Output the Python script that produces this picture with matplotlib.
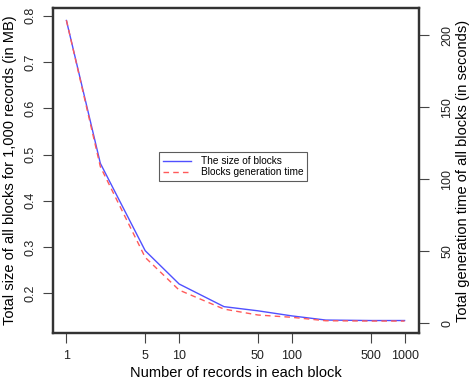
import numpy as np
import matplotlib
matplotlib.use('Agg')
import matplotlib.pyplot as plt

plt.rcParams['font.family'] = ['Liberation Sans', 'DejaVu Sans']

# records per block
records = [1, 2, 5, 10, 25, 50, 100, 200, 500, 1000]
# total size of all blocks (MB), left axis
size_mb = [0.79, 0.481, 0.292, 0.220, 0.171, 0.162, 0.151, 0.142, 0.141, 0.141]
# total generation time (seconds), right axis
gen_time = [210.5, 108.8, 45.8, 23.1, 9.9, 5.8, 4.2, 1.8, 1.6, 1.6]

xticks = [1, 5, 10, 50, 100, 500, 1000]
yticks_left = [0.2, 0.3, 0.4, 0.5, 0.6, 0.7, 0.8]
yticks_right = [0, 50, 100, 150, 200]

W, H = 470, 385
fig = plt.figure(figsize=(W / 100, H / 100), dpi=100)
left, right, top, bottom = 53, 419, 8, 333
ax = fig.add_axes([left / W, (H - bottom) / H, (right - left) / W, (bottom - top) / H])
ax2 = ax.twinx()

blue = '#5050ff'
red = '#ff5a5a'
l1, = ax.plot(records, size_mb, color=blue, lw=1.0, label='The size of blocks')
l2, = ax2.plot(records, gen_time, color=red, lw=1.0, ls=(0, (4, 3)), label='Blocks generation time')

ax.set_xscale('log')
ax.set_xlim(10 ** -0.119, 10 ** 3.128)
ax.set_ylim(0.114, 0.817)
ax2.set_ylim(-6.7, 219)

ax.set_xticks(xticks)
ax.set_xticklabels([str(t) for t in xticks])
ax.xaxis.set_minor_locator(matplotlib.ticker.NullLocator())
ax.set_yticks(yticks_left)
ax.set_yticklabels([str(t) for t in yticks_left], rotation=90, va='center')
ax2.set_yticks(yticks_right)
ax2.set_yticklabels([str(t) for t in yticks_right], rotation=90, va='center')

for a in (ax, ax2):
    for s in a.spines.values():
        s.set_linewidth(1.6)
        s.set_color('#333333')
    a.tick_params(length=7, width=0.8, color='#444444', labelsize=9, labelcolor='#222222')
ax.tick_params(axis='x', pad=5)
ax.tick_params(axis='y', pad=5)
ax2.tick_params(axis='y', pad=9)

ax.set_xlabel('Number of records in each block', fontsize=10.5, labelpad=3)
ax.set_ylabel('Total size of all blocks for 1,000 records (in MB)', fontsize=10.5, labelpad=5)
ax2.set_ylabel('Total generation time of all blocks (in seconds)', fontsize=10.5, labelpad=2)

leg = ax.legend(handles=[l1, l2], loc='upper left',
                bbox_to_anchor=((159 - left) / (right - left), 1 - (152 - top) / (bottom - top)),
                fontsize=7.3, frameon=True, fancybox=False, borderaxespad=0,
                handlelength=2.8, handletextpad=0.9, borderpad=0.4, labelspacing=0.12)
leg.get_frame().set_edgecolor('#333333')
leg.get_frame().set_linewidth(0.8)

fig.savefig('out.png', dpi=100)
